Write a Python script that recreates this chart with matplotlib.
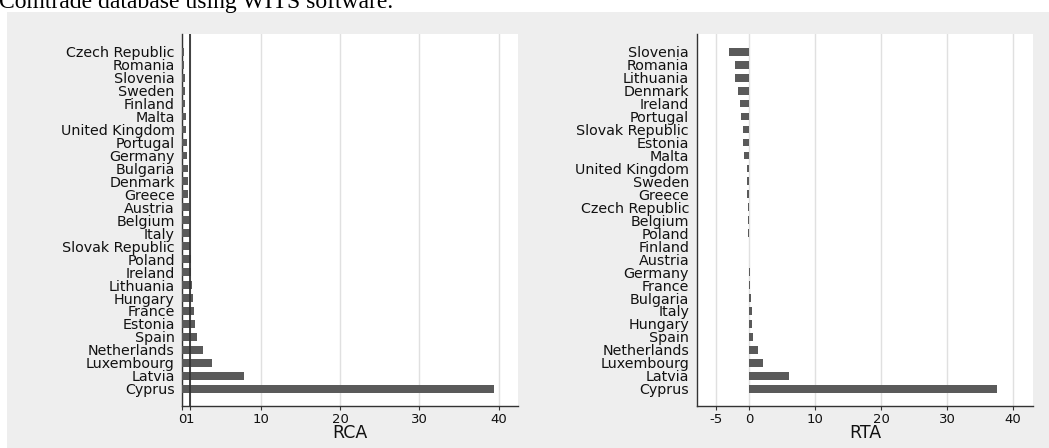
import matplotlib
matplotlib.use('Agg')
import matplotlib.pyplot as plt
from matplotlib.patches import Rectangle

# ---- data ----
rca_countries = ["Czech Republic", "Romania", "Slovenia", "Sweden", "Finland", "Malta",
                 "United Kingdom", "Portugal", "Germany", "Bulgaria", "Denmark", "Greece",
                 "Austria", "Belgium", "Italy", "Slovak Republic", "Poland", "Ireland",
                 "Lithuania", "Hungary", "France", "Estonia", "Spain", "Netherlands",
                 "Luxembourg", "Latvia", "Cyprus"]
rca_values = [0.22, 0.25, 0.3, 0.32, 0.4, 0.42, 0.45, 0.58, 0.62, 0.66, 0.7, 0.78,
              0.85, 0.9, 0.95, 1.0, 1.05, 1.1, 1.2, 1.4, 1.5, 1.6, 1.85, 2.6,
              3.75, 7.85, 39.4]

rta_countries = ["Slovenia", "Romania", "Lithuania", "Denmark", "Ireland", "Portugal",
                 "Slovak Republic", "Estonia", "Malta", "United Kingdom", "Sweden", "Greece",
                 "Czech Republic", "Belgium", "Poland", "Finland", "Austria", "Germany",
                 "France", "Bulgaria", "Italy", "Hungary", "Spain", "Netherlands",
                 "Luxembourg", "Latvia", "Cyprus"]
rta_values = [-3.15, -2.25, -2.15, -1.8, -1.4, -1.3, -1.0, -1.0, -0.85, -0.35, -0.35, -0.3,
              -0.25, -0.2, -0.15, -0.1, -0.05, 0.05, 0.15, 0.3, 0.36, 0.46, 0.56, 1.33,
              2.0, 6.0, 37.5]

rca_ticks = [0, 1, 10, 20, 30, 40]
rca_ticklabels = ["0", "1", "10", "20", "30", "40"]
rta_ticks = [-5, 0, 10, 20, 30, 40]
rta_ticklabels = ["-5", "0", "10", "20", "30", "40"]

W, H = 1049, 448
fig = plt.figure(figsize=(W / 100, H / 100), dpi=100)
fig.patch.set_facecolor('white')
fig.patches.append(Rectangle((7 / W, 0), 1 - 7 / W, 1 - 12 / H, transform=fig.transFigure,
                             facecolor='#eeeeee', edgecolor='none', zorder=-10))

fig.text(-0.001, 1 - 8 / H, "Comtrade database using WITS software.",
         family='Liberation Serif', fontsize=17, va='baseline', ha='left')

BAR = '#5a5a5a'
AX = '#333333'


def panel(rect, cats, vals, xlim, ticks, ticklabels, xlabel, refline=None):
    ax = fig.add_axes(rect)
    ax.set_facecolor('white')
    pos = list(range(len(cats)))
    ax.barh(pos, vals, height=0.6, color=BAR, zorder=3)
    ax.set_ylim(len(cats) - 1 + 1.33, -1.37)
    ax.set_xlim(*xlim)
    ax.set_yticks(pos)
    ax.set_yticklabels(cats, fontsize=10.3, family='DejaVu Sans', color='#111111')
    ax.tick_params(axis='y', length=0, pad=5.5)
    ax.set_xticks(ticks)
    ax.set_xticklabels(ticklabels, fontsize=9.5, family='DejaVu Sans', color='#111111')
    ax.tick_params(axis='x', length=3, width=0.8, color=AX, pad=2)
    ax.grid(axis='x', color='#e0e0e0', lw=1, zorder=0)
    ax.set_axisbelow(True)
    for s in ('top', 'right'):
        ax.spines[s].set_visible(False)
    for s in ('left', 'bottom'):
        ax.spines[s].set_color(AX)
        ax.spines[s].set_linewidth(1)
    ax.set_xlabel(xlabel, fontsize=12.5, family='DejaVu Sans', labelpad=-1.5, color='#111111')
    if refline is not None:
        ax.axvline(refline, color=AX, lw=1.3, zorder=4)
    return ax


top = 1 - 34 / H
bot = 1 - 406 / H
panel([182.3 / W, bot, (518.3 - 182.3) / W, top - bot], rca_countries, rca_values,
      (0, 42.5), rca_ticks, rca_ticklabels, "RCA", refline=1)
panel([696.7 / W, bot, (1033 - 696.7) / W, top - bot], rta_countries, rta_values,
      (-8, 43), rta_ticks, rta_ticklabels, "RTA")

fig.savefig('out.png', dpi=100)
